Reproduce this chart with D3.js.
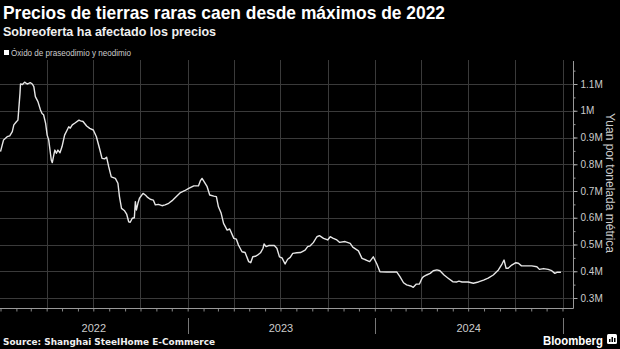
<!DOCTYPE html>
<html>
<head>
<meta charset="utf-8">
<script src="https://cdn.jsdelivr.net/npm/d3@7"></script>
<style>
  html, body { margin: 0; padding: 0; background: #000; }
  svg { display: block; }
</style>
</head>
<body>
<script>
// Praseodymium-neodymium oxide price, yuan per metric ton
const priceDates = [
  "2022-01-01","2022-01-07","2022-01-14","2022-01-19","2022-01-24","2022-01-27","2022-02-01","2022-02-04",
  "2022-02-08","2022-02-09","2022-02-13","2022-02-17","2022-02-22","2022-02-26","2022-02-28","2022-03-04",
  "2022-03-07","2022-03-10","2022-03-15","2022-03-20","2022-03-23","2022-03-26","2022-03-30","2022-04-02",
  "2022-04-05","2022-04-10","2022-04-12","2022-04-15","2022-04-17","2022-04-20","2022-04-23","2022-04-27",
  "2022-05-01","2022-05-06","2022-05-11","2022-05-14","2022-05-17","2022-05-21","2022-05-27","2022-06-03",
  "2022-06-06","2022-06-11","2022-06-18","2022-06-24","2022-07-01","2022-07-07","2022-07-13","2022-07-18",
  "2022-07-23","2022-07-27","2022-07-31","2022-08-05","2022-08-13","2022-08-18","2022-08-21","2022-08-25",
  "2022-08-31","2022-09-04","2022-09-08","2022-09-11","2022-09-15","2022-09-19","2022-09-21","2022-09-23",
  "2022-09-26","2022-09-29","2022-10-06","2022-10-11","2022-10-15","2022-10-20","2022-10-26","2022-10-30",
  "2022-11-05","2022-11-12","2022-11-18","2022-11-25","2022-12-03","2022-12-10","2022-12-18","2022-12-26",
  "2023-01-03","2023-01-13","2023-01-22","2023-01-26","2023-01-29","2023-02-02","2023-02-08","2023-02-13",
  "2023-02-21","2023-02-26","2023-03-02","2023-03-07","2023-03-12","2023-03-19","2023-03-24","2023-04-01",
  "2023-04-06","2023-04-10","2023-04-17","2023-04-23","2023-04-30","2023-05-04","2023-05-08","2023-05-13",
  "2023-05-17","2023-05-23","2023-05-28","2023-05-30","2023-06-03","2023-06-08","2023-06-14","2023-06-19",
  "2023-06-24","2023-06-29","2023-07-04","2023-07-10","2023-07-15","2023-07-20","2023-07-25","2023-08-02",
  "2023-08-09","2023-08-18","2023-08-23","2023-08-28","2023-09-03","2023-09-10","2023-09-15","2023-09-23",
  "2023-10-01","2023-10-06","2023-10-11","2023-10-19","2023-10-24","2023-11-04","2023-11-14","2023-11-19",
  "2023-11-30","2023-12-07","2023-12-15","2023-12-22","2023-12-29","2024-01-05","2024-01-11","2024-01-24",
  "2024-02-03","2024-02-13","2024-02-19","2024-02-26","2024-03-03","2024-03-11","2024-03-16","2024-03-22",
  "2024-03-28","2024-04-02","2024-04-05","2024-04-11","2024-04-18","2024-04-24","2024-05-01","2024-05-07",
  "2024-05-15","2024-05-23","2024-06-01","2024-06-09","2024-06-13","2024-06-19","2024-06-25","2024-07-01",
  "2024-07-11","2024-07-21","2024-07-31","2024-08-09","2024-08-19","2024-08-29","2024-09-05","2024-09-09",
  "2024-09-13","2024-09-17","2024-09-24","2024-10-02","2024-10-07","2024-10-13","2024-10-23","2024-11-02",
  "2024-11-12","2024-11-17","2024-11-25","2024-12-04","2024-12-11","2024-12-17","2024-12-21","2024-12-29"
];
const priceValues = [
  847000, 891000, 903000, 906000, 922000, 947000, 959000, 965000,
  1065000, 1100000, 1098000, 1107000, 1100000, 1103000, 1105000, 1100000,
  1090000, 1053000, 1034000, 1003000, 990000, 985000, 953000, 909000,
  891000, 816000, 806000, 835000, 853000, 841000, 853000, 843000,
  866000, 909000, 928000, 940000, 935000, 947000, 955000, 965000,
  962000, 960000, 943000, 934000, 928000, 903000, 860000, 822000,
  820000, 826000, 791000, 753000, 747000, 729000, 679000, 635000,
  626000, 614000, 585000, 583000, 598000, 600000, 660000, 629000,
  654000, 673000, 691000, 684000, 676000, 669000, 666000, 648000,
  650000, 645000, 648000, 654000, 666000, 679000, 694000, 701000,
  710000, 719000, 719000, 739000, 747000, 735000, 716000, 685000,
  681000, 679000, 641000, 619000, 579000, 554000, 558000, 523000,
  520000, 498000, 473000, 470000, 436000, 432000, 454000, 456000,
  460000, 469000, 486000, 502000, 492000, 496000, 496000, 496000,
  486000, 454000, 450000, 427000, 445000, 452000, 467000, 469000,
  470000, 479000, 492000, 495000, 507000, 529000, 533000, 523000,
  517000, 529000, 524000, 517000, 508000, 511000, 504000, 490000,
  476000, 448000, 442000, 436000, 454000, 427000, 398000, 397000,
  397000, 397000, 380000, 357000, 349000, 345000, 340000, 352000,
  352000, 374000, 380000, 386000, 392000, 402000, 405000, 402000,
  386000, 374000, 361000, 360000, 363000, 360000, 360000, 360000,
  355000, 360000, 367000, 374000, 386000, 405000, 427000, 442000,
  411000, 411000, 423000, 432000, 430000, 420000, 420000, 420000,
  417000, 407000, 410000, 407000, 402000, 392000, 396000, 396000
];
const yTickValues = [300000, 400000, 500000, 600000, 700000, 800000, 900000, 1000000, 1100000];
const yTickLabels = ["0.3M", "0.4M", "0.5M", "0.6M", "0.7M", "0.8M", "0.9M", "1M", "1.1M"];
const yearLabels = ["2022", "2023", "2024"];

const titleText = "Precios de tierras raras caen desde máximos de 2022";
const subtitleText = "Sobreoferta ha afectado los precios";
const legendText = "Óxido de praseodimio y neodimio";
const yAxisTitle = "Yuan por tonelada métrica";
const sourceText = "Source: Shanghai SteelHome E-Commerce";

const W = 620, H = 349;
const plot = { left: 0, right: 573, top: 60, bottom: 308 };

const parse = d3.utcParse("%Y-%m-%d");
const series = priceDates.map((d, i) => ({ date: parse(d), value: priceValues[i] }));

const x = d3.scaleUtc()
  .domain([Date.UTC(2022, 0, 1), Date.UTC(2025, 0, 1)])
  .range([0.5, 562.5]);
const y = d3.scaleLinear()
  .domain([300000, 1100000])
  .range([298, 84]);

const svg = d3.select("body").append("svg")
  .attr("width", W).attr("height", H)
  .style("background", "#000");

// Titles
svg.append("text")
  .attr("x", 3).attr("y", 18.5)
  .attr("fill", "#fff")
  .attr("font-family", "Liberation Sans, Arial, sans-serif")
  .attr("font-weight", "bold")
  .attr("font-size", 18.5)
  .attr("textLength", 442).attr("lengthAdjust", "spacingAndGlyphs")
  .text(titleText);

svg.append("text")
  .attr("x", 3).attr("y", 35.5)
  .attr("fill", "#f0f0f0")
  .attr("font-family", "Liberation Sans, Arial, sans-serif")
  .attr("font-weight", "bold")
  .attr("font-size", 12.5)
  .attr("textLength", 213).attr("lengthAdjust", "spacingAndGlyphs")
  .text(subtitleText);

// Legend
svg.append("rect")
  .attr("x", 4).attr("y", 50).attr("width", 5).attr("height", 5)
  .attr("fill", "#fff");
svg.append("text")
  .attr("x", 11).attr("y", 55.5)
  .attr("fill", "#ccc")
  .attr("font-family", "Liberation Sans, Arial, sans-serif")
  .attr("font-size", 9.5)
  .attr("textLength", 120).attr("lengthAdjust", "spacingAndGlyphs")
  .text(legendText);

// Grid
const gridColor = "#3a3a3a";
const quarters = d3.utcMonth.every(3).range(Date.UTC(2022, 2, 1), Date.UTC(2025, 0, 2));
svg.append("g").selectAll("line")
  .data(quarters)
  .join("line")
  .attr("x1", d => Math.round(x(d)) + 0.5).attr("x2", d => Math.round(x(d)) + 0.5)
  .attr("y1", plot.top).attr("y2", plot.bottom)
  .attr("stroke", gridColor).attr("stroke-width", 1);

svg.append("g").selectAll("line")
  .data(yTickValues)
  .join("line")
  .attr("x1", plot.left).attr("x2", plot.right)
  .attr("y1", d => Math.round(y(d)) + 0.5).attr("y2", d => Math.round(y(d)) + 0.5)
  .attr("stroke", gridColor).attr("stroke-width", 1);

// Bottom axis with monthly ticks
const xAxis = d3.axisBottom(x)
  .ticks(d3.utcMonth.every(1))
  .tickSize(3)
  .tickSizeOuter(0)
  .tickFormat("");
const gx = svg.append("g")
  .attr("transform", `translate(0,${plot.bottom + 0.5})`)
  .call(xAxis);
gx.select(".domain").remove();
gx.selectAll(".tick line").attr("stroke", "#888");
svg.append("line")
  .attr("x1", plot.left).attr("x2", plot.right + 0.5)
  .attr("y1", plot.bottom + 0.5).attr("y2", plot.bottom + 0.5)
  .attr("stroke", "#999");

// Year separators and labels
const yearStarts = [Date.UTC(2023, 0, 1), Date.UTC(2024, 0, 1), Date.UTC(2025, 0, 1)];
svg.append("g").selectAll("line")
  .data(yearStarts)
  .join("line")
  .attr("x1", d => Math.round(x(d)) + 0.5).attr("x2", d => Math.round(x(d)) + 0.5)
  .attr("y1", 318).attr("y2", 334)
  .attr("stroke", "#777");
svg.append("g").selectAll("text")
  .data(yearLabels)
  .join("text")
  .attr("x", (d, i) => x(Date.UTC(2022 + i, 6, 2)))
  .attr("y", 332)
  .attr("text-anchor", "middle")
  .attr("fill", "#ccc")
  .attr("font-family", "Liberation Sans, Arial, sans-serif")
  .attr("font-size", 11)
  .text(d => d);

// Right value axis with minor ticks
const yMinor = d3.range(300000, 1200000, 50000);
const yAxisMinor = d3.axisRight(y).tickValues(yMinor).tickSize(2).tickFormat("");
const gMinor = svg.append("g")
  .attr("transform", `translate(${plot.right + 0.5},0)`)
  .call(yAxisMinor);
gMinor.select(".domain").remove();
gMinor.selectAll(".tick line").attr("stroke", "#999");

const yAxis = d3.axisRight(y)
  .tickValues(yTickValues)
  .tickSize(4)
  .tickPadding(3)
  .tickFormat((d, i) => yTickLabels[i]);
const gy = svg.append("g")
  .attr("transform", `translate(${plot.right + 0.5},0)`)
  .call(yAxis);
gy.select(".domain").remove();
gy.selectAll(".tick line").attr("stroke", "#aaa");
gy.selectAll(".tick text")
  .attr("fill", "#ccc")
  .attr("font-family", "Liberation Sans, Arial, sans-serif")
  .attr("font-size", 10);

svg.append("line")
  .attr("x1", plot.right + 0.5).attr("x2", plot.right + 0.5)
  .attr("y1", plot.top + 1).attr("y2", plot.bottom + 0.5)
  .attr("stroke", "#999");

svg.append("text")
  .attr("transform", `translate(606,183) rotate(90)`)
  .attr("text-anchor", "middle")
  .attr("fill", "#ccc")
  .attr("font-family", "Liberation Sans, Arial, sans-serif")
  .attr("font-size", 12)
  .text(yAxisTitle);

// Price line
const line = d3.line()
  .x(d => x(d.date))
  .y(d => y(d.value));
svg.append("path")
  .datum(series)
  .attr("d", line)
  .attr("fill", "none")
  .attr("stroke", "#e6e6e6")
  .attr("stroke-width", 1.4)
  .attr("stroke-linejoin", "round");

// Footer
svg.append("text")
  .attr("x", 3).attr("y", 345)
  .attr("fill", "#f0f0f0")
  .attr("font-family", "DejaVu Sans, sans-serif")
  .attr("font-weight", "bold")
  .attr("font-size", 9)
  .attr("textLength", 212).attr("lengthAdjust", "spacingAndGlyphs")
  .text(sourceText);

svg.append("text")
  .attr("x", 603).attr("y", 345)
  .attr("text-anchor", "end")
  .attr("fill", "#fff")
  .attr("font-family", "Liberation Sans, Arial, sans-serif")
  .attr("font-weight", "bold")
  .attr("font-size", 13)
  .attr("textLength", 60).attr("lengthAdjust", "spacingAndGlyphs")
  .text("Bloomberg");

// Small terminal-style mark after the brand name
const logo = svg.append("g").attr("transform", "translate(607,334)");
logo.append("rect").attr("width", 10).attr("height", 10).attr("rx", 1.5).attr("fill", "#fff");
logo.append("rect").attr("x", 2).attr("y", 5).attr("width", 1.5).attr("height", 3).attr("fill", "#000");
logo.append("rect").attr("x", 4.5).attr("y", 3).attr("width", 1.5).attr("height", 5).attr("fill", "#000");
logo.append("rect").attr("x", 7).attr("y", 4).attr("width", 1.5).attr("height", 4).attr("fill", "#000");
</script>
</body>
</html>
